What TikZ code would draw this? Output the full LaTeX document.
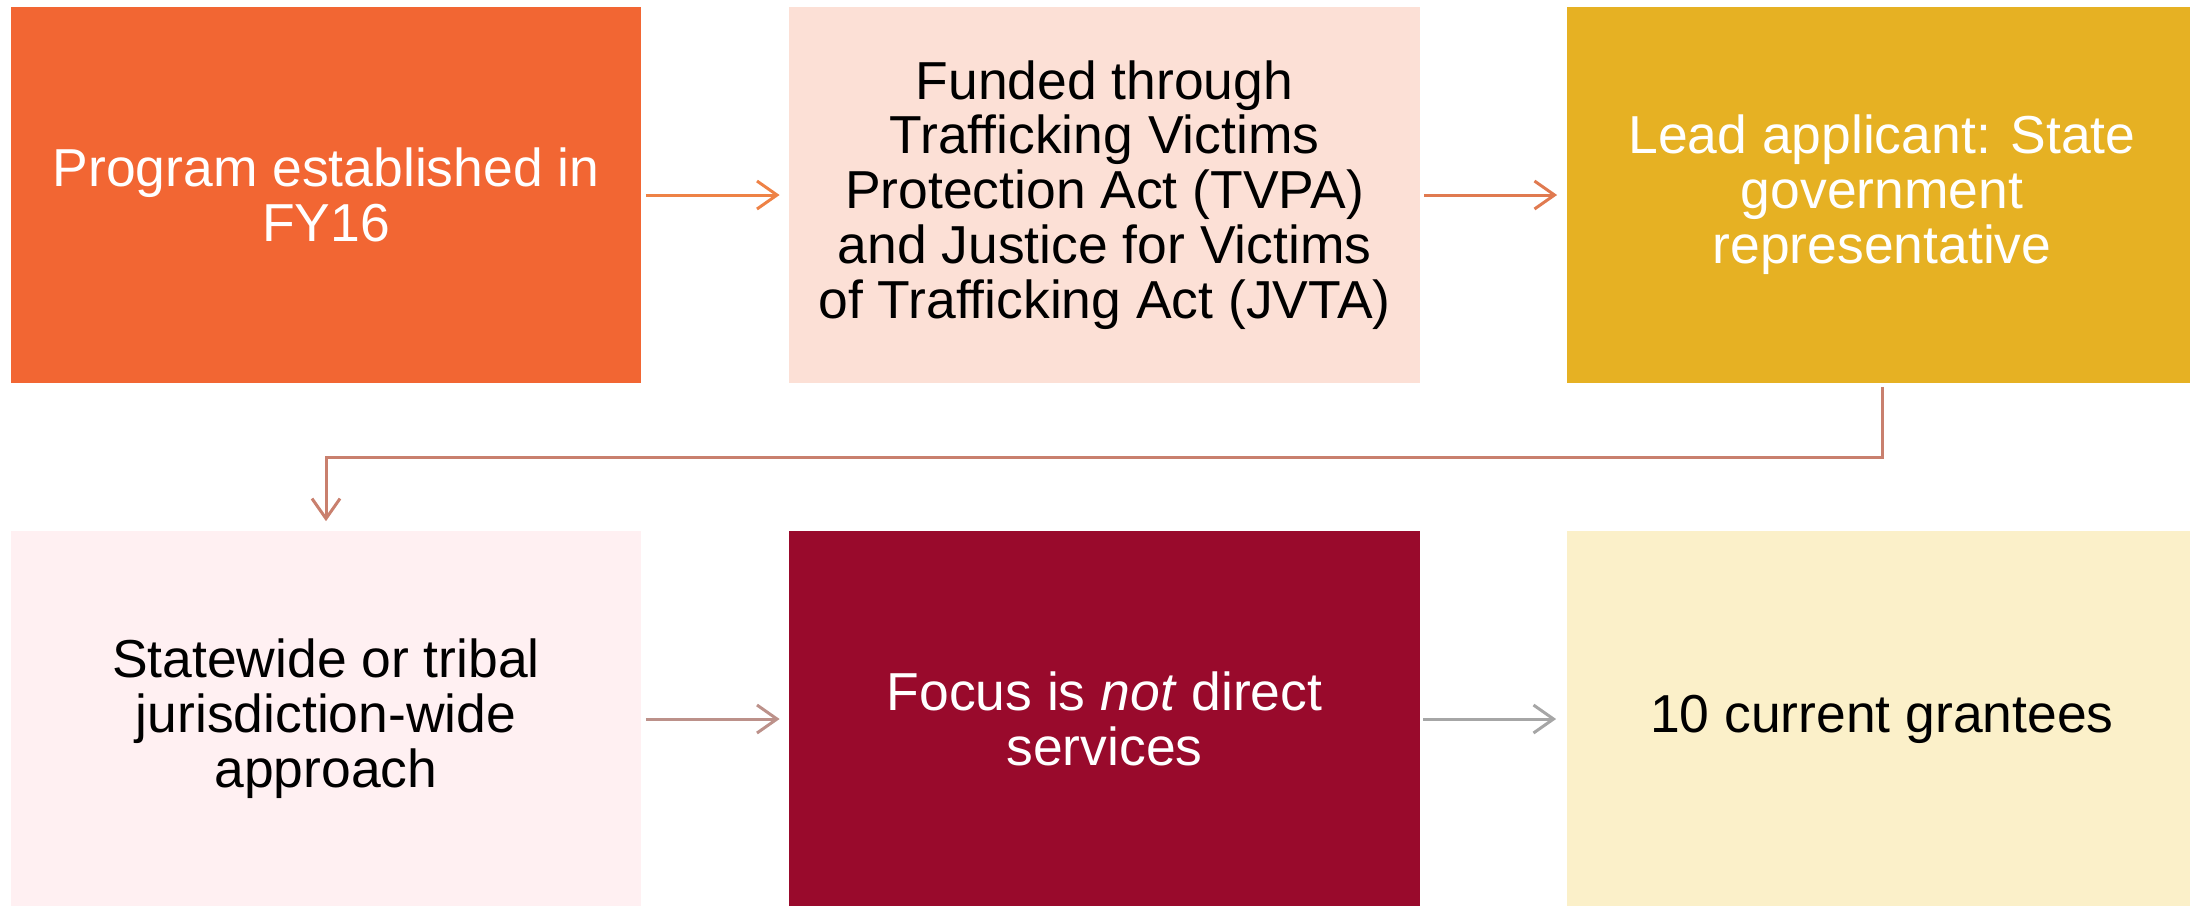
\documentclass[tikz,border=0pt]{standalone}
\usepackage{fontspec}
\setmainfont{Liberation Sans}
\usetikzlibrary{arrows.meta}

\definecolor{progorange}{HTML}{F26633}
\definecolor{fundpeach}{HTML}{FCE0D6}
\definecolor{leadgold}{HTML}{E6B123}
\definecolor{statepink}{HTML}{FFF0F2}
\definecolor{focusred}{HTML}{990A2C}
\definecolor{grantcream}{HTML}{FBF0C9}
\definecolor{arroworange}{HTML}{EE8246}
\definecolor{arrowcoral}{HTML}{E07A50}
\definecolor{elbowrose}{HTML}{C9806E}
\definecolor{arrowmauve}{HTML}{BC918A}
\definecolor{arrowgrey}{HTML}{A6A6A6}

\begin{document}
\begin{tikzpicture}[x=0.01cm,y=-0.01cm,
    stagebox/.style={minimum width=6.3cm,minimum height=3.76cm,inner sep=0pt,
      align=center,font=\fontsize{15.2}{15.6}\selectfont},
    flowarrow/.style={line width=0.03cm,-{Straight Barb[length=0.2cm,width=0.28cm]}}]
    \useasboundingbox (0,0) rectangle (2190,905);
    \clip (0,0) rectangle (2190,905);

    % top row
    \node[stagebox,fill=progorange,text=white] (prog) at (326,195) {Program established in\\FY16};
    \node[stagebox,fill=fundpeach] (fund) at (1104.5,195) {Funded through\\Trafficking Victims\\Protection Act (TVPA)\\and Justice for Victims\\of Trafficking Act (JVTA)};
    \node[stagebox,fill=leadgold,text=white] (lead) at (1882,195) {Lead applicant: State\\government\\representative};

    % bottom row
    \node[stagebox,fill=statepink] (state) at (326,719) {Statewide or tribal\\jurisdiction-wide\\approach};
    \node[stagebox,fill=focusred,text=white] (focus) at (1104.5,719) {Focus is \textit{not} direct\\services};
    \node[stagebox,fill=grantcream] (grant) at (1882,719) {10 current grantees};

    \draw[flowarrow,draw=arroworange] ([xshift=0.04cm]prog.east) -- ([xshift=-0.09cm]fund.west);
    \draw[flowarrow,draw=arrowcoral] ([xshift=0.04cm]fund.east) -- ([xshift=-0.09cm]lead.west);
    \draw[flowarrow,draw=elbowrose] ([yshift=-0.03cm]lead.south) -- ++(0,71) -| ([yshift=0.09cm]state.north);
    \draw[flowarrow,draw=arrowmauve] ([xshift=0.04cm]state.east) -- ([xshift=-0.09cm]focus.west);
    \draw[flowarrow,draw=arrowgrey] ([xshift=0.03cm]focus.east) -- ([xshift=-0.1cm]grant.west);
\end{tikzpicture}
\end{document}
